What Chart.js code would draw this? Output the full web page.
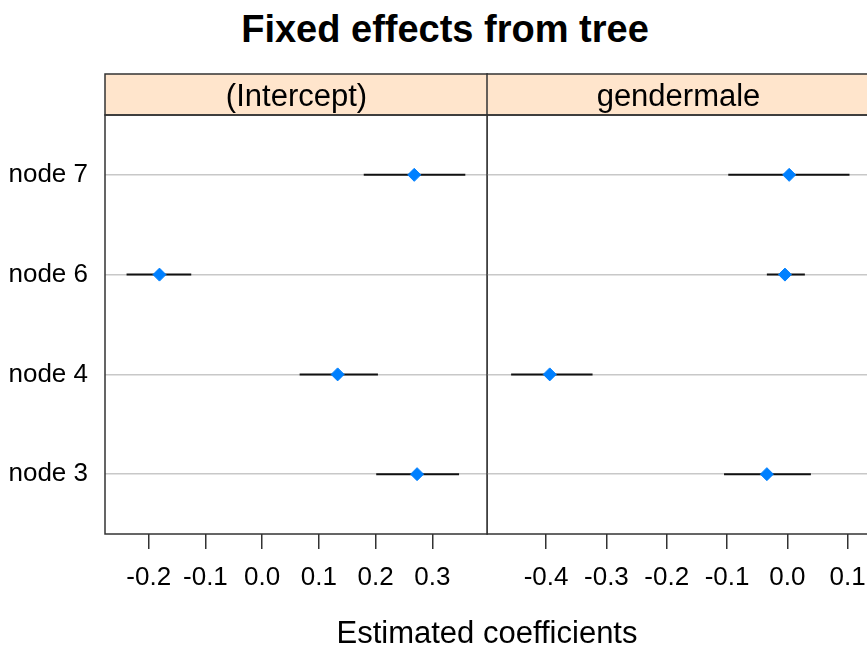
<!DOCTYPE html>
<html lang="en">
<head>
    <meta charset="UTF-8">
    <title>Fixed effects from tree</title>
    <script src="https://cdn.jsdelivr.net/npm/chart.js"></script>
    <style>
        html, body { margin: 0; padding: 0; background: #fff; overflow: hidden; }
        body { width: 867px; height: 647px; position: relative; font-family: "Liberation Sans", Arial, sans-serif; }
        canvas { position: absolute; top: 0; }
        #leftPanel { left: 0; }
        #rightPanel { left: 480px; }
        .txt { position: absolute; text-align: center; color: #000; white-space: nowrap; }
        #title { left: 45px; width: 800px; top: 10px; font-size: 38px; line-height: 38px; font-weight: bold; }
        #xTitle { left: 105px; width: 764px; top: 617px; font-size: 31px; line-height: 31px; }
    </style>
</head>
<body>
    <div id="title" class="txt">Fixed effects from tree</div>
    <canvas id="leftPanel" width="488" height="647"></canvas>
    <canvas id="rightPanel" width="390" height="647"></canvas>
    <div id="xTitle" class="txt">Estimated coefficients</div>

    <script>
        // rows, bottom to top
        const nodes = ["node 3", "node 4", "node 6", "node 7"];

        // (Intercept)
        const interceptEst = [0.273, 0.133, -0.181, 0.268];
        const interceptLow = [0.201, 0.066, -0.239, 0.179];
        const interceptHigh = [0.347, 0.204, -0.125, 0.358];
        const interceptTicks = [-0.2, -0.1, 0.0, 0.1, 0.2, 0.3];

        // gendermale
        const genderEst = [-0.034, -0.394, -0.004, 0.003];
        const genderLow = [-0.105, -0.458, -0.034, -0.098];
        const genderHigh = [0.039, -0.323, 0.029, 0.103];
        const genderTicks = [-0.4, -0.3, -0.2, -0.1, 0.0, 0.1];

        const FONT = "'Liberation Sans', Arial, sans-serif";

        const panelPlugin = {
            id: "panelBox",
            afterDraw(chart, args, opts) {
                const { ctx, chartArea: a } = chart;
                ctx.save();
                // strip
                ctx.fillStyle = "#FFE5CC";
                ctx.fillRect(a.left, 74, a.right - a.left, a.top - 74);
                ctx.strokeStyle = "#333";
                ctx.lineWidth = 1.5;
                ctx.strokeRect(a.left, 74, a.right - a.left, a.top - 74);
                ctx.fillStyle = "#000";
                ctx.font = "31px " + FONT;
                ctx.textAlign = "center";
                ctx.textBaseline = "middle";
                ctx.fillText(opts.label, (a.left + a.right) / 2, 97);
                // panel border
                ctx.strokeRect(a.left, a.top, a.right - a.left, a.bottom - a.top);
                ctx.restore();
            }
        };

        function makePanel(id, label, est, low, high, ticks, xmin, xmax, showY, padLeft) {
            const datasets = [];
            for (let i = 0; i < nodes.length; i++) {
                datasets.push({
                    data: [{ x: low[i], y: i + 1 }, { x: high[i], y: i + 1 }],
                    showLine: true,
                    borderColor: "#111",
                    borderWidth: 2,
                    pointRadius: 0,
                    order: 2
                });
            }
            datasets.push({
                data: est.map((v, i) => ({ x: v, y: i + 1 })),
                pointStyle: "rectRot",
                pointRadius: 6.5,
                backgroundColor: "#0080FF",
                borderColor: "#0080FF",
                borderWidth: 1,
                order: 1
            });

            return new Chart(document.getElementById(id), {
                type: "scatter",
                data: { datasets },
                options: {
                    responsive: false,
                    animation: false,
                    devicePixelRatio: 1,
                    layout: { autoPadding: false, padding: { top: 115, left: padLeft, right: 0, bottom: 0 } },
                    plugins: {
                        legend: { display: false },
                        tooltip: { enabled: false },
                        panelBox: { label: label }
                    },
                    scales: {
                        x: {
                            type: "linear",
                            min: xmin,
                            max: xmax,
                            afterBuildTicks: s => { s.ticks = ticks.map(v => ({ value: v })); },
                            afterFit: s => { s.height = 113; s.paddingLeft = 0; s.paddingRight = 0; },
                            grid: { drawOnChartArea: false, tickLength: 15, color: "#333", lineWidth: 1.5 },
                            border: { display: false },
                            ticks: {
                                color: "#000",
                                padding: 13,
                                maxRotation: 0,
                                font: { family: FONT, size: 26 },
                                callback: v => v.toFixed(1)
                            }
                        },
                        y: {
                            type: "linear",
                            min: 0.4,
                            max: 4.6,
                            afterBuildTicks: s => { s.ticks = nodes.map((n, i) => ({ value: i + 1 })); },
                            afterFit: s => { s.width = showY ? 105 : 0; s.paddingTop = 0; s.paddingBottom = 0; },
                            grid: { drawTicks: false, color: "#c8c8c8", lineWidth: 1.5 },
                            border: { display: false },
                            ticks: {
                                display: showY,
                                color: "#000",
                                padding: 17,
                                font: { family: FONT, size: 26 },
                                callback: v => nodes[v - 1]
                            }
                        }
                    }
                },
                plugins: [panelPlugin]
            });
        }

        makePanel("leftPanel", "(Intercept)", interceptEst, interceptLow, interceptHigh,
            interceptTicks, -0.277, 0.398, true, 0);
        makePanel("rightPanel", "gendermale", genderEst, genderLow, genderHigh,
            genderTicks, -0.498, 0.137, false, 7);
    </script>
</body>
</html>
